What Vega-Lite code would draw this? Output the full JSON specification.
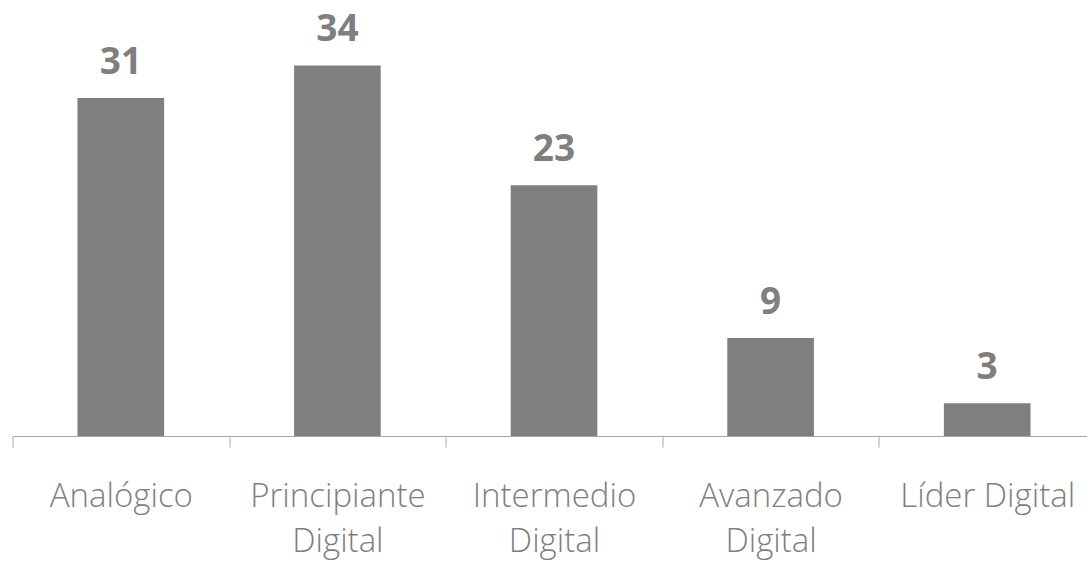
{
  "$schema": "https://vega.github.io/schema/vega-lite/v6.json",
  "autosize": "none",
  "padding": {"left": 12.5, "top": 0, "right": 0, "bottom": 125},
  "width": 1083,
  "height": 436,
  "background": "white",
  "config": {"view": {"stroke": null}},
  "data": {
    "values": [
      {"nivel": "Analógico", "valor": 31},
      {"nivel": "Principiante|Digital", "valor": 34},
      {"nivel": "Intermedio|Digital", "valor": 23},
      {"nivel": "Avanzado|Digital", "valor": 9},
      {"nivel": "Líder Digital", "valor": 3}
    ]
  },
  "encoding": {
    "x": {
      "field": "nivel",
      "type": "nominal",
      "sort": null,
      "scale": {"paddingInner": 0, "paddingOuter": 0},
      "axis": {
        "title": null,
        "labelAngle": 0,
        "tickBand": "extent",
        "labelExpr": "split(datum.label, '|')",
        "labelFont": "Open Sans",
        "labelFontSize": 33,
        "labelFontWeight": 300,
        "labelColor": "#7f7f7f",
        "labelLineHeight": 45,
        "labelPadding": 33,
        "labelBaseline": "top",
        "domainColor": "#a6a6a6",
        "tickColor": "#a6a6a6",
        "tickSize": 11
      }
    },
    "y": {
      "field": "valor",
      "type": "quantitative",
      "scale": {"domain": [0, 40]},
      "axis": null
    }
  },
  "layer": [
    {
      "mark": {"type": "bar", "width": {"band": 0.4}, "color": "#7f7f7f"}
    },
    {
      "mark": {
        "type": "text",
        "dy": -24,
        "baseline": "alphabetic",
        "font": "Open Sans",
        "fontSize": 37,
        "fontWeight": "bold",
        "color": "#7f7f7f"
      },
      "encoding": {"text": {"field": "valor", "type": "quantitative"}}
    }
  ]
}
